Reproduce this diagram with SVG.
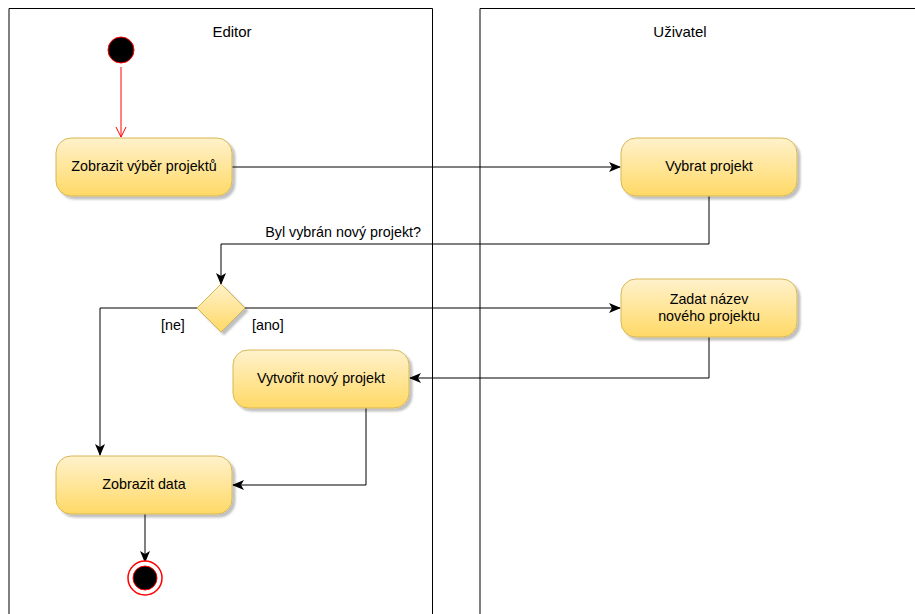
<svg xmlns="http://www.w3.org/2000/svg" width="915" height="614" viewBox="0 0 915 614">
<defs>
<linearGradient id="yg" x1="0" y1="0" x2="0" y2="1">
<stop offset="0" stop-color="#fff2cc"/>
<stop offset="1" stop-color="#ffd966"/>
</linearGradient>
<filter id="sh" x="-10%" y="-10%" width="130%" height="140%">
<feGaussianBlur in="SourceAlpha" stdDeviation="1.2"/>
<feOffset dx="3" dy="3" result="b"/>
<feComponentTransfer><feFuncA type="linear" slope="0.25"/></feComponentTransfer>
<feMerge><feMergeNode/><feMergeNode in="SourceGraphic"/></feMerge>
</filter>
<marker id="ah" viewBox="0 0 12 10" refX="11" refY="5" markerWidth="12" markerHeight="10" markerUnits="userSpaceOnUse" orient="auto">
<path d="M0,0 L12,5 L0,10 L3,5 z" fill="#000"/>
</marker>
<marker id="oh" viewBox="0 0 12 12" refX="11" refY="6" markerWidth="12" markerHeight="12" markerUnits="userSpaceOnUse" orient="auto">
<path d="M1,1 L11,6 L1,11" fill="none" stroke="#ff0000" stroke-width="1"/>
</marker>
</defs>
<style>
text{font-family:"Liberation Sans",Arial,sans-serif;font-size:14.3px;fill:#000}
.title{font-size:15px}
.lane{fill:none;stroke:#000;stroke-width:1}
.act{fill:url(#yg);stroke:#d6b656;stroke-width:1;filter:url(#sh)}
.c{fill:none;stroke:#000;stroke-width:1;marker-end:url(#ah)}
.mid{text-anchor:middle}
</style>
<g id="lane-editor">
<path class="lane" d="M9,620 V8.5 H432.5 V620"/>
<text class="mid title" x="232" y="37">Editor</text>
</g>
<g id="lane-uzivatel">
<path class="lane" d="M480,620 V8.5 H920"/>
<text class="mid title" x="680" y="37">Uživatel</text>
</g>
<g id="connectors">
<path d="M121,67 V137" fill="none" stroke="#ff0000" stroke-width="1" marker-end="url(#oh)"/>
<path class="c" d="M232,167 H620"/>
<path class="c" d="M709,196 V244 H221 V284"/>
<path class="c" d="M245,308 H620"/>
<path class="c" d="M197,308 H100 V455"/>
<path class="c" d="M709,337 V378 H410"/>
<path class="c" d="M366,408 V485 H233"/>
<path class="c" d="M145,514 V562"/>
<text x="421" y="237" text-anchor="end">Byl vybrán nový projekt?</text>
<text x="161" y="330">[ne]</text>
<text x="252" y="330">[ano]</text>
</g>
<g id="start">
<circle cx="121" cy="50" r="13" fill="#000" stroke="#ff0000" stroke-width="1"/>
</g>
<g id="zobrazit-vyber">
<rect class="act" x="56" y="138" width="176" height="58" rx="15"/>
<text class="mid" x="144" y="171">Zobrazit výběr projektů</text>
</g>
<g id="vybrat-projekt">
<rect class="act" x="621" y="138" width="176" height="58" rx="15"/>
<text class="mid" x="709" y="171">Vybrat projekt</text>
</g>
<g id="decision">
<path d="M221,284 L245,308 L221,332 L197,308 Z" fill="url(#yg)" stroke="#d6b656" stroke-width="1" filter="url(#sh)"/>
</g>
<g id="zadat-nazev">
<rect class="act" x="621" y="279" width="176" height="58" rx="15"/>
<text class="mid" x="709" y="304">Zadat název</text>
<text class="mid" x="709" y="321">nového projektu</text>
</g>
<g id="vytvorit">
<rect class="act" x="233" y="350" width="176" height="58" rx="15"/>
<text class="mid" x="321" y="383">Vytvořit nový projekt</text>
</g>
<g id="zobrazit-data">
<rect class="act" x="56" y="456" width="176" height="58" rx="15"/>
<text class="mid" x="144" y="489">Zobrazit data</text>
</g>
<g id="end">
<circle cx="145" cy="578" r="17" fill="#fff" stroke="#ff0000" stroke-width="1.5"/>
<circle cx="145" cy="578" r="12" fill="#000" stroke="#ff0000" stroke-width="1"/>
</g>
</svg>
